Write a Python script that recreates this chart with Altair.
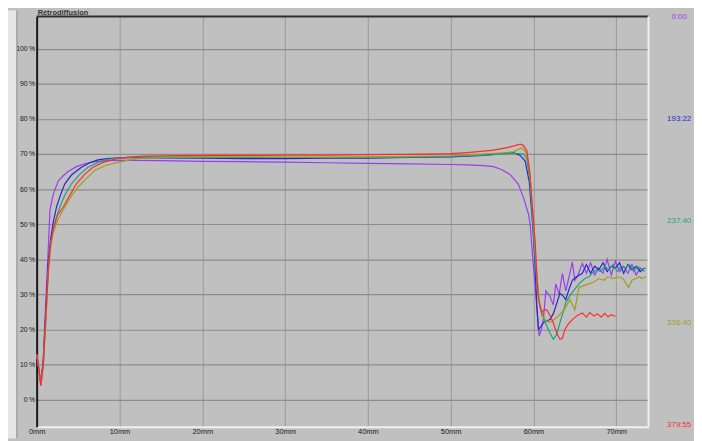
import altair as alt
import pandas as pd

# ---- data ----
purple_x = [0, 0.25, 0.5, 0.8, 1.1, 1.4, 1.6, 2.0, 2.6, 3.2, 3.8, 4.8, 5.8, 7.0, 8.6, 10, 12, 15, 20, 25, 30, 35, 40, 45, 50, 52, 54, 55.2, 56.2, 57.2, 58.2, 58.8, 59.4, 59.6, 60.0, 60.4, 60.7, 61.0, 61.2, 61.5, 62.0, 62.4, 62.7, 63.1, 63.5, 63.9, 64.3, 64.7, 65.0, 65.3, 65.9, 66.4, 66.9, 67.4, 67.9, 68.4, 68.9, 69.4, 69.9, 70.4, 70.9, 71.4, 71.9, 72.4, 72.9, 73.4]
purple_y = [13, 9, 4.5, 12, 28, 43, 54, 58.5, 62.3, 63.8, 65, 66.4, 67.2, 67.8, 68.1, 68.2, 68.2, 68.1, 67.9, 67.8, 67.7, 67.5, 67.3, 67.2, 67.0, 66.9, 66.7, 66.4, 65.5, 64.1, 61.3, 57.5, 52.9, 50, 37.8, 26.6, 18.1, 20.5, 22.8, 31, 29.4, 27, 33, 30, 36, 31, 35, 39.2, 34, 35, 38.8, 36, 39, 35.5, 37.5, 36, 40, 35.5, 39.5, 36.5, 38, 36, 38.5, 35.5, 37.5, 36.5]

blue_x = [0, 0.25, 0.5, 0.8, 1.1, 1.4, 1.7, 2.0, 2.4, 2.9, 3.4, 4.2, 5.4, 6.4, 7.4, 8.5, 10, 12, 15, 20, 25, 30, 35, 40, 45, 50, 52, 54, 55.2, 56.4, 57.6, 58.4, 59.0, 59.5, 59.9, 60.2, 60.4, 60.6, 60.9, 61.2, 61.6, 62.0, 62.4, 62.7, 63.2, 63.6, 63.9, 64.3, 64.7, 65.2, 65.9, 66.4, 66.9, 67.4, 67.9, 68.4, 68.9, 69.4, 69.9, 70.4, 70.9, 71.4, 71.9, 72.4, 72.9, 73.4]
blue_y = [13, 9, 4.3, 11, 25, 39, 46, 50.5, 54.9, 58.5, 61.5, 64, 66.2, 67.5, 68.3, 68.7, 68.9, 69.0, 68.9, 68.8, 68.7, 68.7, 68.8, 68.8, 69.0, 69.2, 69.4, 69.6, 69.9, 70.2, 70.4, 69.6, 68, 62, 50, 38, 26.8, 20, 20.8, 21.9, 22.5, 22.8, 24.5, 26.6, 30.3, 29.5, 28.5, 31.5, 34, 35, 36, 38.5, 36, 38, 37, 39, 36.5, 38, 37.5, 39, 36, 38.5, 37, 38, 36.5, 37.5]

green_x = [0, 0.25, 0.5, 0.8, 1.1, 1.4, 1.7, 2.0, 2.4, 2.8, 3.4, 4.2, 5.2, 6.2, 7.4, 8.6, 10, 12, 15, 20, 25, 30, 35, 40, 45, 50, 52, 54, 55.2, 56.4, 57.6, 58.8, 59.2, 59.6, 59.9, 60.2, 60.5, 60.8, 61.2, 61.6, 62.0, 62.4, 62.8, 63.2, 63.6, 63.9, 64.5, 65.0, 65.5, 66.2, 66.7, 67.1, 67.6, 68.1, 68.6, 69.1, 69.6, 70.1, 70.6, 71.1, 71.6, 72.1, 72.6, 73.1, 73.6]
green_y = [13, 9, 4.2, 10, 23, 37, 44.5, 48.5, 52, 54.9, 58.3, 61.5, 64.2, 66.2, 67.6, 68.5, 68.9, 69.1, 69.2, 69.1, 69.0, 69.0, 69.0, 69.0, 69.1, 69.3, 69.5, 69.7, 69.8, 70.0, 70.2, 70.0, 68.5, 62, 51, 40, 31, 26.5, 23.7, 21, 19, 17.2, 18.5, 21.9, 25, 27.6, 30, 31.5, 33, 34.5, 35, 36, 37, 36.5, 38, 37, 38.5, 36.5, 38, 37.5, 38.5, 36.5, 38, 37, 37.5]

olive_x = [0, 0.25, 0.5, 0.8, 1.1, 1.4, 1.7, 2.0, 2.6, 3.4, 4.2, 5.0, 6.0, 7.0, 8.4, 9.8, 12, 15, 20, 25, 30, 35, 40, 45, 50, 52, 54, 55.2, 56.4, 57.6, 58.6, 59.1, 59.5, 59.9, 60.2, 60.5, 60.8, 61.0, 61.5, 62.0, 62.6, 63.2, 63.8, 64.4, 65.0, 65.5, 66.1, 66.7, 67.3, 67.9, 68.5, 69.0, 69.6, 70.2, 70.8, 71.2, 71.5, 71.9, 72.4, 72.8, 73.1, 73.6]
olive_y = [13, 9, 4.0, 9.5, 21, 36, 43.5, 47.5, 51.5, 54.9, 58, 60.6, 63, 65.3, 66.8, 67.6, 68.7, 69.0, 69.2, 69.2, 69.1, 69.1, 69.2, 69.3, 69.5, 69.7, 70.0, 70.2, 70.3, 70.6, 71.8, 70.5, 66, 54, 43, 33, 26.5, 24, 22.5, 22, 23, 24.2, 26, 28.5, 25.6, 32, 32.5, 33, 33.5, 34.5, 34, 35, 34.5, 35, 34.5, 33, 32, 34, 34.5, 35, 34.5, 35]

red_x = [0, 0.25, 0.5, 0.8, 1.04, 1.43, 1.7, 2.03, 2.5, 3.2, 4.0, 4.8, 5.8, 6.8, 8.0, 9.4, 11, 13, 15, 20, 25, 30, 35, 40, 45, 50, 52, 54, 55.2, 56.8, 57.8, 58.4, 58.8, 59.2, 59.6, 59.8, 60.2, 60.4, 60.6, 61.0, 61.3, 61.6, 62.0, 62.4, 62.8, 63.2, 63.5, 63.8, 64.2, 64.7, 65.3, 65.9, 66.4, 66.8, 67.3, 67.7, 68.2, 68.6, 69.0, 69.4, 69.9]
red_y = [13, 9, 4.0, 10, 21, 37.8, 45, 49, 52.5, 54.9, 58.2, 61.5, 64.2, 66.2, 67.6, 68.5, 69.1, 69.4, 69.5, 69.6, 69.6, 69.7, 69.7, 69.8, 69.9, 70.1, 70.4, 70.8, 71.1, 71.8, 72.4, 72.8, 72.4, 70.9, 64, 57, 45.5, 36.2, 28.6, 24.9, 25.6, 25.6, 24, 21.9, 19, 17.2, 17.5, 20, 21.5, 22.8, 24, 24.7, 23.5, 24.8, 23.8, 24.5, 23.5, 24.6, 23.6, 24.2, 23.7]

series_labels = ["0:00", "193:22", "237:40", "336:40", "379:55"]
series_colors = ["#9a3cf0", "#2626d2", "#1fa27a", "#9d9d1e", "#ff2b2b"]
label_pos = [108.9, 80.0, 50.9, 21.9, -7.1]   # vertical position of the time labels, in %
x_ticks = [0, 10, 20, 30, 40, 50, 60, 70]
y_ticks = [0, 10, 20, 30, 40, 50, 60, 70, 80, 90, 100]
title_text = "Rétrodiffusion"

W, H = 619, 415
FONT = "Liberation Sans"

X = alt.X("x:Q", scale=alt.Scale(domain=[0, 73.9], nice=False, zero=False),
          axis=alt.Axis(values=x_ticks, labelExpr="datum.value + 'mm'", title=None,
                        grid=True, gridColor="#9a9a9a", gridWidth=1,
                        domainColor="#f0f0f0", domainWidth=2, ticks=False,
                        labelFontSize=7.5, labelColor="#1a1a1a", labelFont=FONT,
                        labelPadding=1, labelFlush=False))
Y = alt.Y("y:Q", scale=alt.Scale(domain=[-7.7, 109.2], nice=False, zero=False),
          axis=alt.Axis(values=y_ticks, labelExpr="datum.value + '\u2009%'", title=None,
                        grid=True, gridColor="#8c8c8c", gridWidth=1.2,
                        domainColor="#1a1a1a", domainWidth=2, ticks=False,
                        labelFontSize=7, labelColor="#1a1a1a", labelFont=FONT,
                        labelPadding=2))

layers = []

# left light strip of the window frame
strip = alt.Chart(alt.Data(values=[{}])).mark_rect(color="#e6e6e6").encode(
    x=alt.value(-29), x2=alt.value(-20), y=alt.value(-6), y2=alt.value(H + 12))
strip_line = alt.Chart(alt.Data(values=[{}])).mark_rule(color="#8a8a8a", strokeWidth=1).encode(
    x=alt.value(-20), y=alt.value(-6), y2=alt.value(H + 12))
layers += [strip, strip_line]

all_series = [(purple_x, purple_y), (blue_x, blue_y), (green_x, green_y),
              (olive_x, olive_y), (red_x, red_y)]
for (xs, ys), lab, col in zip(all_series, series_labels, series_colors):
    df = pd.DataFrame({"x": xs, "y": ys})
    layers.append(alt.Chart(df).mark_line(color=col, strokeWidth=1.2, interpolate="linear").encode(x=X, y=Y))

# frame borders (dark top, light right)
top_border = alt.Chart(alt.Data(values=[{}])).mark_rule(color="#303030", strokeWidth=2).encode(
    x=alt.value(0), x2=alt.value(W), y=alt.value(0))
right_border = alt.Chart(alt.Data(values=[{}])).mark_rule(color="#f0f0f0", strokeWidth=2).encode(
    x=alt.value(W), y=alt.value(0), y2=alt.value(H))
layers += [top_border, right_border]

# title
title = alt.Chart(alt.Data(values=[{"t": title_text}])).mark_text(
    align="left", baseline="middle", fontSize=7.5, fontWeight="bold", font=FONT, color="#333333"
).encode(x=alt.value(1), y=alt.value(-3.5), text="t:N")
layers.append(title)

# time labels on the right
lab_df = pd.DataFrame({"label": series_labels, "y": label_pos})
labels = alt.Chart(lab_df).mark_text(
    align="center", baseline="middle", fontSize=8, font=FONT
).encode(
    x=alt.value(W + 31), y=Y, text="label:N",
    color=alt.Color("label:N", scale=alt.Scale(domain=series_labels, range=series_colors), legend=None))
layers.append(labels)

chart = alt.layer(*layers).properties(
    width=W, height=H,
    autosize=alt.AutoSizeParams(type="none"),
    padding={"left": 29, "top": 6, "right": 46, "bottom": 12},
    background="#c0c0c0",
).configure_view(strokeWidth=0, fill="#c0c0c0")

chart.save("out.html", embed_options={"renderer": "svg", "actions": False})
